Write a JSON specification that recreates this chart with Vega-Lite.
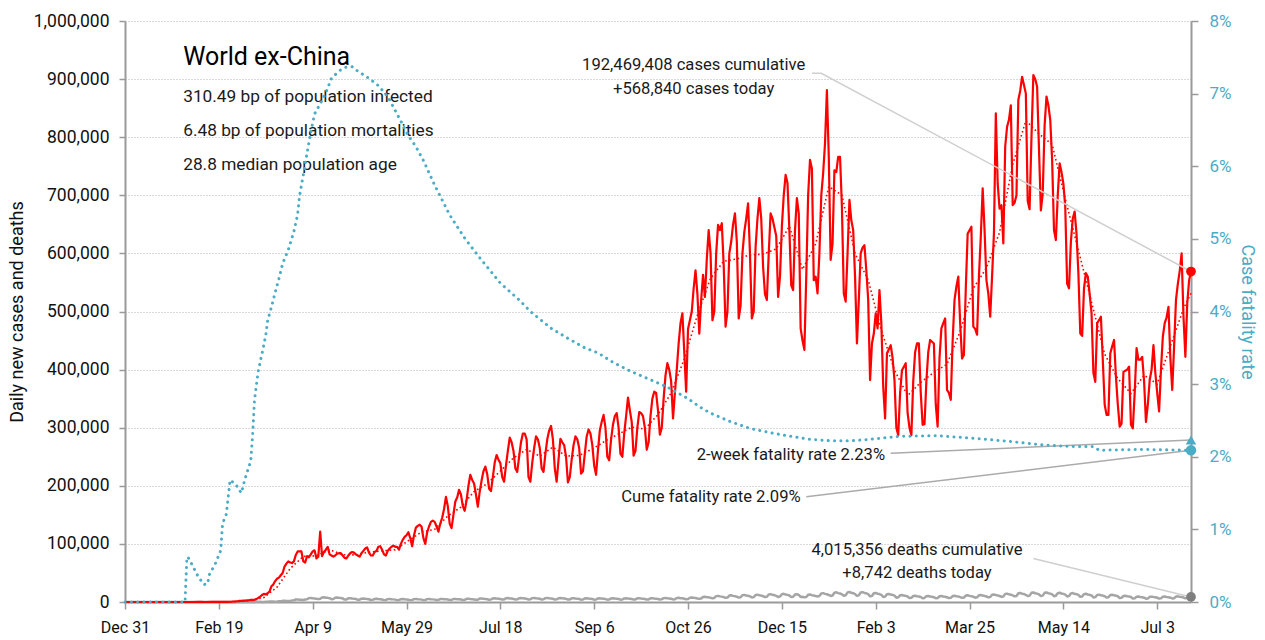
{
"$schema": "https://vega.github.io/schema/vega-lite/v6.json",
"width": 1066,
"height": 581,
"autosize": {"type": "none"},
"padding": {"left": 125, "top": 21, "right": 74, "bottom": 38},
"background": "#ffffff",
"config": {
  "view": {"stroke": null},
  "font": "Roboto",
  "axis": {
    "labelFont": "Roboto",
    "titleFont": "Roboto",
    "labelFontSize": 17, "titleFontSize": 18, "titleFontWeight": "normal",
    "labelColor": "#1a1a1a", "titleColor": "#1a1a1a",
    "domainColor": "#9a9a9a", "domainWidth": 2,
    "tickColor": "#9a9a9a", "tickWidth": 1.5, "tickSize": 7, "grid": false
  }
},
"datasets": {
"daily": [
{"date":"2019-12-31","cases":0,"deaths":0},{"date":"2020-01-05","cases":0,"deaths":0},{"date":"2020-01-10","cases":0,"deaths":0},{"date":"2020-01-15","cases":0,"deaths":0},{"date":"2020-01-20","cases":0,"deaths":0},{"date":"2020-01-25","cases":10,"deaths":0},{"date":"2020-01-30","cases":20,"deaths":0},{"date":"2020-02-02","cases":30,"deaths":0},{"date":"2020-02-05","cases":40,"deaths":0},{"date":"2020-02-09","cases":60,"deaths":0},{"date":"2020-02-12","cases":40,"deaths":0},
{"date":"2020-02-15","cases":80,"deaths":0},{"date":"2020-02-16","cases":100,"deaths":0},{"date":"2020-02-17","cases":120,"deaths":0},{"date":"2020-02-18","cases":100,"deaths":0},{"date":"2020-02-19","cases":150,"deaths":0},{"date":"2020-02-20","cases":180,"deaths":0},{"date":"2020-02-21","cases":250,"deaths":0},{"date":"2020-02-22","cases":300,"deaths":0},
{"date":"2020-02-23","cases":400,"deaths":0},{"date":"2020-02-24","cases":300,"deaths":0},{"date":"2020-02-25","cases":400,"deaths":0},{"date":"2020-02-26","cases":500,"deaths":0},{"date":"2020-02-27","cases":900,"deaths":10},{"date":"2020-02-28","cases":1000,"deaths":10},{"date":"2020-02-29","cases":1300,"deaths":10},
{"date":"2020-03-01","cases":1800,"deaths":40},{"date":"2020-03-02","cases":2000,"deaths":40},{"date":"2020-03-03","cases":2200,"deaths":60},{"date":"2020-03-04","cases":2300,"deaths":60},{"date":"2020-03-05","cases":2700,"deaths":60},{"date":"2020-03-06","cases":3000,"deaths":50},{"date":"2020-03-07","cases":3700,"deaths":50},
{"date":"2020-03-08","cases":3600,"deaths":150},{"date":"2020-03-09","cases":3800,"deaths":160},{"date":"2020-03-10","cases":5000,"deaths":230},{"date":"2020-03-11","cases":7000,"deaths":240},{"date":"2020-03-12","cases":9000,"deaths":220},{"date":"2020-03-13","cases":12000,"deaths":210},{"date":"2020-03-14","cases":14000,"deaths":190},
{"date":"2020-03-15","cases":13000,"deaths":450},{"date":"2020-03-16","cases":15000,"deaths":480},{"date":"2020-03-17","cases":18000,"deaths":690},{"date":"2020-03-18","cases":27000,"deaths":720},{"date":"2020-03-19","cases":30000,"deaths":660},{"date":"2020-03-20","cases":36000,"deaths":630},{"date":"2020-03-21","cases":40000,"deaths":570},
{"date":"2020-03-22","cases":42000,"deaths":1280},{"date":"2020-03-23","cases":46000,"deaths":1360},{"date":"2020-03-24","cases":50000,"deaths":1960},{"date":"2020-03-25","cases":61000,"deaths":2040},{"date":"2020-03-26","cases":66000,"deaths":1870},{"date":"2020-03-27","cases":70000,"deaths":1790},{"date":"2020-03-28","cases":68000,"deaths":1620},
{"date":"2020-03-29","cases":67000,"deaths":2780},{"date":"2020-03-30","cases":70000,"deaths":2960},{"date":"2020-03-31","cases":81000,"deaths":4260},{"date":"2020-04-01","cases":87000,"deaths":4440},{"date":"2020-04-02","cases":87000,"deaths":4070},{"date":"2020-04-03","cases":87000,"deaths":3890},{"date":"2020-04-04","cases":70000,"deaths":3520},
{"date":"2020-04-05","cases":68000,"deaths":4350},{"date":"2020-04-06","cases":79000,"deaths":4640},{"date":"2020-04-07","cases":77000,"deaths":6670},{"date":"2020-04-08","cases":82000,"deaths":6960},{"date":"2020-04-09","cases":87000,"deaths":6380},{"date":"2020-04-10","cases":89000,"deaths":6090},{"date":"2020-04-11","cases":75000,"deaths":5510},
{"date":"2020-04-12","cases":78000,"deaths":5100},{"date":"2020-04-13","cases":121000,"deaths":5440},{"date":"2020-04-14","cases":79000,"deaths":7820},{"date":"2020-04-15","cases":86000,"deaths":8160},{"date":"2020-04-16","cases":90000,"deaths":7480},{"date":"2020-04-17","cases":95000,"deaths":7140},{"date":"2020-04-18","cases":82000,"deaths":6460},
{"date":"2020-04-19","cases":80000,"deaths":4880},{"date":"2020-04-20","cases":78000,"deaths":5200},{"date":"2020-04-21","cases":80000,"deaths":7480},{"date":"2020-04-22","cases":83000,"deaths":7800},{"date":"2020-04-23","cases":84000,"deaths":7150},{"date":"2020-04-24","cases":84000,"deaths":6830},{"date":"2020-04-25","cases":80000,"deaths":6180},
{"date":"2020-04-26","cases":76000,"deaths":4130},{"date":"2020-04-27","cases":75000,"deaths":4400},{"date":"2020-04-28","cases":80000,"deaths":6330},{"date":"2020-04-29","cases":84000,"deaths":6600},{"date":"2020-04-30","cases":86000,"deaths":6050},{"date":"2020-05-01","cases":85000,"deaths":5780},{"date":"2020-05-02","cases":82000,"deaths":5230},
{"date":"2020-05-03","cases":80000,"deaths":3750},{"date":"2020-05-04","cases":78000,"deaths":4000},{"date":"2020-05-05","cases":84000,"deaths":5750},{"date":"2020-05-06","cases":88000,"deaths":6000},{"date":"2020-05-07","cases":92000,"deaths":5500},{"date":"2020-05-08","cases":94000,"deaths":5250},{"date":"2020-05-09","cases":85000,"deaths":4750},
{"date":"2020-05-10","cases":80000,"deaths":3450},{"date":"2020-05-11","cases":80000,"deaths":3680},{"date":"2020-05-12","cases":86000,"deaths":5290},{"date":"2020-05-13","cases":88000,"deaths":5520},{"date":"2020-05-14","cases":95000,"deaths":5060},{"date":"2020-05-15","cases":96000,"deaths":4830},{"date":"2020-05-16","cases":90000,"deaths":4370},
{"date":"2020-05-17","cases":82000,"deaths":3230},{"date":"2020-05-18","cases":80000,"deaths":3440},{"date":"2020-05-19","cases":88000,"deaths":4950},{"date":"2020-05-20","cases":92000,"deaths":5160},{"date":"2020-05-21","cases":95000,"deaths":4730},{"date":"2020-05-22","cases":97000,"deaths":4520},{"date":"2020-05-23","cases":95000,"deaths":4090},
{"date":"2020-05-24","cases":95000,"deaths":3150},{"date":"2020-05-25","cases":90000,"deaths":3360},{"date":"2020-05-26","cases":100000,"deaths":4830},{"date":"2020-05-27","cases":107000,"deaths":5040},{"date":"2020-05-28","cases":112000,"deaths":4620},{"date":"2020-05-29","cases":115000,"deaths":4410},{"date":"2020-05-30","cases":120000,"deaths":3990},
{"date":"2020-05-31","cases":110000,"deaths":3230},{"date":"2020-06-01","cases":96000,"deaths":3440},{"date":"2020-06-02","cases":115000,"deaths":4950},{"date":"2020-06-03","cases":128000,"deaths":5160},{"date":"2020-06-04","cases":131000,"deaths":4730},{"date":"2020-06-05","cases":133000,"deaths":4520},{"date":"2020-06-06","cases":130000,"deaths":4090},
{"date":"2020-06-07","cases":110000,"deaths":3230},{"date":"2020-06-08","cases":100000,"deaths":3440},{"date":"2020-06-09","cases":120000,"deaths":4950},{"date":"2020-06-10","cases":130000,"deaths":5160},{"date":"2020-06-11","cases":138000,"deaths":4730},{"date":"2020-06-12","cases":140000,"deaths":4520},{"date":"2020-06-13","cases":138000,"deaths":4090},
{"date":"2020-06-14","cases":130000,"deaths":3300},{"date":"2020-06-15","cases":121000,"deaths":3520},{"date":"2020-06-16","cases":135000,"deaths":5060},{"date":"2020-06-17","cases":145000,"deaths":5280},{"date":"2020-06-18","cases":160000,"deaths":4840},{"date":"2020-06-19","cases":181000,"deaths":4620},{"date":"2020-06-20","cases":165000,"deaths":4180},
{"date":"2020-06-21","cases":135000,"deaths":3300},{"date":"2020-06-22","cases":127000,"deaths":3520},{"date":"2020-06-23","cases":150000,"deaths":5060},{"date":"2020-06-24","cases":173000,"deaths":5280},{"date":"2020-06-25","cases":180000,"deaths":4840},{"date":"2020-06-26","cases":193000,"deaths":4620},{"date":"2020-06-27","cases":185000,"deaths":4180},
{"date":"2020-06-28","cases":165000,"deaths":3530},{"date":"2020-06-29","cases":157000,"deaths":3760},{"date":"2020-06-30","cases":175000,"deaths":5410},{"date":"2020-07-01","cases":200000,"deaths":5640},{"date":"2020-07-02","cases":219000,"deaths":5170},{"date":"2020-07-03","cases":210000,"deaths":4940},{"date":"2020-07-04","cases":204000,"deaths":4470},
{"date":"2020-07-05","cases":185000,"deaths":3830},{"date":"2020-07-06","cases":164000,"deaths":4080},{"date":"2020-07-07","cases":190000,"deaths":5870},{"date":"2020-07-08","cases":209000,"deaths":6120},{"date":"2020-07-09","cases":225000,"deaths":5610},{"date":"2020-07-10","cases":233000,"deaths":5360},{"date":"2020-07-11","cases":220000,"deaths":4850},
{"date":"2020-07-12","cases":195000,"deaths":3980},{"date":"2020-07-13","cases":191000,"deaths":4240},{"date":"2020-07-14","cases":215000,"deaths":6100},{"date":"2020-07-15","cases":240000,"deaths":6360},{"date":"2020-07-16","cases":253000,"deaths":5830},{"date":"2020-07-17","cases":245000,"deaths":5570},{"date":"2020-07-18","cases":239000,"deaths":5040},
{"date":"2020-07-19","cases":215000,"deaths":4200},{"date":"2020-07-20","cases":207000,"deaths":4480},{"date":"2020-07-21","cases":235000,"deaths":6440},{"date":"2020-07-22","cases":260000,"deaths":6720},{"date":"2020-07-23","cases":283000,"deaths":6160},{"date":"2020-07-24","cases":275000,"deaths":5880},{"date":"2020-07-25","cases":260000,"deaths":5320},
{"date":"2020-07-26","cases":230000,"deaths":4280},{"date":"2020-07-27","cases":224000,"deaths":4560},{"date":"2020-07-28","cases":250000,"deaths":6560},{"date":"2020-07-29","cases":275000,"deaths":6840},{"date":"2020-07-30","cases":290000,"deaths":6270},{"date":"2020-07-31","cases":290000,"deaths":5990},{"date":"2020-08-01","cases":280000,"deaths":5420},
{"date":"2020-08-02","cases":215000,"deaths":4350},{"date":"2020-08-03","cases":207000,"deaths":4640},{"date":"2020-08-04","cases":240000,"deaths":6670},{"date":"2020-08-05","cases":265000,"deaths":6960},{"date":"2020-08-06","cases":285000,"deaths":6380},{"date":"2020-08-07","cases":280000,"deaths":6090},{"date":"2020-08-08","cases":265000,"deaths":5510},
{"date":"2020-08-09","cases":230000,"deaths":4350},{"date":"2020-08-10","cases":224000,"deaths":4640},{"date":"2020-08-11","cases":255000,"deaths":6670},{"date":"2020-08-12","cases":280000,"deaths":6960},{"date":"2020-08-13","cases":295000,"deaths":6380},{"date":"2020-08-14","cases":303000,"deaths":6090},{"date":"2020-08-15","cases":280000,"deaths":5510},
{"date":"2020-08-16","cases":230000,"deaths":4280},{"date":"2020-08-17","cases":207000,"deaths":4560},{"date":"2020-08-18","cases":245000,"deaths":6560},{"date":"2020-08-19","cases":281000,"deaths":6840},{"date":"2020-08-20","cases":275000,"deaths":6270},{"date":"2020-08-21","cases":270000,"deaths":5990},{"date":"2020-08-22","cases":250000,"deaths":5420},
{"date":"2020-08-23","cases":206000,"deaths":4130},{"date":"2020-08-24","cases":215000,"deaths":4400},{"date":"2020-08-25","cases":245000,"deaths":6330},{"date":"2020-08-26","cases":270000,"deaths":6600},{"date":"2020-08-27","cases":285000,"deaths":6050},{"date":"2020-08-28","cases":280000,"deaths":5780},{"date":"2020-08-29","cases":265000,"deaths":5230},
{"date":"2020-08-30","cases":221000,"deaths":4050},{"date":"2020-08-31","cases":225000,"deaths":4320},{"date":"2020-09-01","cases":255000,"deaths":6210},{"date":"2020-09-02","cases":285000,"deaths":6480},{"date":"2020-09-03","cases":297000,"deaths":5940},{"date":"2020-09-04","cases":290000,"deaths":5670},{"date":"2020-09-05","cases":270000,"deaths":5130},
{"date":"2020-09-06","cases":235000,"deaths":3980},{"date":"2020-09-07","cases":219000,"deaths":4240},{"date":"2020-09-08","cases":260000,"deaths":6100},{"date":"2020-09-09","cases":295000,"deaths":6360},{"date":"2020-09-10","cases":310000,"deaths":5830},{"date":"2020-09-11","cases":322000,"deaths":5570},{"date":"2020-09-12","cases":300000,"deaths":5040},
{"date":"2020-09-13","cases":250000,"deaths":4050},{"date":"2020-09-14","cases":244000,"deaths":4320},{"date":"2020-09-15","cases":280000,"deaths":6210},{"date":"2020-09-16","cases":305000,"deaths":6480},{"date":"2020-09-17","cases":320000,"deaths":5940},{"date":"2020-09-18","cases":325000,"deaths":5670},{"date":"2020-09-19","cases":300000,"deaths":5130},
{"date":"2020-09-20","cases":255000,"deaths":3980},{"date":"2020-09-21","cases":250000,"deaths":4240},{"date":"2020-09-22","cases":290000,"deaths":6100},{"date":"2020-09-23","cases":320000,"deaths":6360},{"date":"2020-09-24","cases":352000,"deaths":5830},{"date":"2020-09-25","cases":330000,"deaths":5570},{"date":"2020-09-26","cases":310000,"deaths":5040},
{"date":"2020-09-27","cases":252000,"deaths":4130},{"date":"2020-09-28","cases":260000,"deaths":4400},{"date":"2020-09-29","cases":300000,"deaths":6330},{"date":"2020-09-30","cases":327000,"deaths":6600},{"date":"2020-10-01","cases":325000,"deaths":6050},{"date":"2020-10-02","cases":320000,"deaths":5780},{"date":"2020-10-03","cases":300000,"deaths":5230},
{"date":"2020-10-04","cases":262000,"deaths":4130},{"date":"2020-10-05","cases":275000,"deaths":4400},{"date":"2020-10-06","cases":320000,"deaths":6330},{"date":"2020-10-07","cases":350000,"deaths":6600},{"date":"2020-10-08","cases":362000,"deaths":6050},{"date":"2020-10-09","cases":360000,"deaths":5780},{"date":"2020-10-10","cases":330000,"deaths":5230},
{"date":"2020-10-11","cases":288000,"deaths":4350},{"date":"2020-10-12","cases":300000,"deaths":4640},{"date":"2020-10-13","cases":350000,"deaths":6670},{"date":"2020-10-14","cases":390000,"deaths":6960},{"date":"2020-10-15","cases":411000,"deaths":6380},{"date":"2020-10-16","cases":400000,"deaths":6090},{"date":"2020-10-17","cases":380000,"deaths":5510},
{"date":"2020-10-18","cases":316000,"deaths":4500},{"date":"2020-10-19","cases":360000,"deaths":4800},{"date":"2020-10-20","cases":400000,"deaths":6900},{"date":"2020-10-21","cases":445000,"deaths":7200},{"date":"2020-10-22","cases":480000,"deaths":6600},{"date":"2020-10-23","cases":497000,"deaths":6300},{"date":"2020-10-24","cases":430000,"deaths":5700},
{"date":"2020-10-25","cases":362000,"deaths":4880},{"date":"2020-10-26","cases":470000,"deaths":5200},{"date":"2020-10-27","cases":485000,"deaths":7480},{"date":"2020-10-28","cases":500000,"deaths":7800},{"date":"2020-10-29","cases":540000,"deaths":7150},{"date":"2020-10-30","cases":571000,"deaths":6830},{"date":"2020-10-31","cases":530000,"deaths":6180},
{"date":"2020-11-01","cases":462000,"deaths":5700},{"date":"2020-11-02","cases":520000,"deaths":6080},{"date":"2020-11-03","cases":563000,"deaths":8740},{"date":"2020-11-04","cases":525000,"deaths":9120},{"date":"2020-11-05","cases":590000,"deaths":8360},{"date":"2020-11-06","cases":640000,"deaths":7980},{"date":"2020-11-07","cases":600000,"deaths":7220},
{"date":"2020-11-08","cases":485000,"deaths":6600},{"date":"2020-11-09","cases":500000,"deaths":7040},{"date":"2020-11-10","cases":600000,"deaths":10120},{"date":"2020-11-11","cases":649000,"deaths":10560},{"date":"2020-11-12","cases":640000,"deaths":9680},{"date":"2020-11-13","cases":652000,"deaths":9240},{"date":"2020-11-14","cases":580000,"deaths":8360},
{"date":"2020-11-15","cases":474000,"deaths":7200},{"date":"2020-11-16","cases":500000,"deaths":7680},{"date":"2020-11-17","cases":600000,"deaths":11040},{"date":"2020-11-18","cases":620000,"deaths":11520},{"date":"2020-11-19","cases":650000,"deaths":10560},{"date":"2020-11-20","cases":669000,"deaths":10080},{"date":"2020-11-21","cases":620000,"deaths":9120},
{"date":"2020-11-22","cases":488000,"deaths":7650},{"date":"2020-11-23","cases":510000,"deaths":8160},{"date":"2020-11-24","cases":600000,"deaths":11730},{"date":"2020-11-25","cases":637000,"deaths":12240},{"date":"2020-11-26","cases":660000,"deaths":11220},{"date":"2020-11-27","cases":686000,"deaths":10710},{"date":"2020-11-28","cases":600000,"deaths":9690},
{"date":"2020-11-29","cases":488000,"deaths":7880},{"date":"2020-11-30","cases":500000,"deaths":8400},{"date":"2020-12-01","cases":611000,"deaths":12080},{"date":"2020-12-02","cases":660000,"deaths":12600},{"date":"2020-12-03","cases":695000,"deaths":11550},{"date":"2020-12-04","cases":660000,"deaths":11030},{"date":"2020-12-05","cases":577000,"deaths":9980},
{"date":"2020-12-06","cases":530000,"deaths":8400},{"date":"2020-12-07","cases":520000,"deaths":8960},{"date":"2020-12-08","cases":600000,"deaths":12880},{"date":"2020-12-09","cases":669000,"deaths":13440},{"date":"2020-12-10","cases":660000,"deaths":12320},{"date":"2020-12-11","cases":645000,"deaths":11760},{"date":"2020-12-12","cases":630000,"deaths":10640},
{"date":"2020-12-13","cases":525000,"deaths":8780},{"date":"2020-12-14","cases":560000,"deaths":9360},{"date":"2020-12-15","cases":646000,"deaths":13460},{"date":"2020-12-16","cases":700000,"deaths":14040},{"date":"2020-12-17","cases":735000,"deaths":12870},{"date":"2020-12-18","cases":721000,"deaths":12290},{"date":"2020-12-19","cases":640000,"deaths":11120},
{"date":"2020-12-20","cases":545000,"deaths":8400},{"date":"2020-12-21","cases":537000,"deaths":8960},{"date":"2020-12-22","cases":640000,"deaths":12880},{"date":"2020-12-23","cases":695000,"deaths":13440},{"date":"2020-12-24","cases":669000,"deaths":12320},{"date":"2020-12-25","cases":471000,"deaths":8800},{"date":"2020-12-26","cases":450000,"deaths":9000},
{"date":"2020-12-27","cases":434000,"deaths":8030},{"date":"2020-12-28","cases":560000,"deaths":8560},{"date":"2020-12-29","cases":700000,"deaths":12310},{"date":"2020-12-30","cases":761000,"deaths":12840},{"date":"2020-12-31","cases":746000,"deaths":11770},{"date":"2021-01-01","cases":554000,"deaths":11240},{"date":"2021-01-02","cases":560000,"deaths":10170},
{"date":"2021-01-03","cases":531000,"deaths":9530},{"date":"2021-01-04","cases":600000,"deaths":10160},{"date":"2021-01-05","cases":700000,"deaths":14610},{"date":"2021-01-06","cases":738000,"deaths":15240},{"date":"2021-01-07","cases":790000,"deaths":13970},{"date":"2021-01-08","cases":881000,"deaths":13340},{"date":"2021-01-09","cases":766000,"deaths":12070},
{"date":"2021-01-10","cases":589000,"deaths":10430},{"date":"2021-01-11","cases":617000,"deaths":11120},{"date":"2021-01-12","cases":743000,"deaths":15990},{"date":"2021-01-13","cases":740000,"deaths":16680},{"date":"2021-01-14","cases":766000,"deaths":15290},{"date":"2021-01-15","cases":766000,"deaths":14600},{"date":"2021-01-16","cases":680000,"deaths":13210},
{"date":"2021-01-17","cases":531000,"deaths":10800},{"date":"2021-01-18","cases":517000,"deaths":11520},{"date":"2021-01-19","cases":600000,"deaths":16560},{"date":"2021-01-20","cases":692000,"deaths":17280},{"date":"2021-01-21","cases":657000,"deaths":15840},{"date":"2021-01-22","cases":640000,"deaths":15120},{"date":"2021-01-23","cases":560000,"deaths":13680},
{"date":"2021-01-24","cases":445000,"deaths":10650},{"date":"2021-01-25","cases":520000,"deaths":11360},{"date":"2021-01-26","cases":600000,"deaths":16330},{"date":"2021-01-27","cases":610000,"deaths":17040},{"date":"2021-01-28","cases":614000,"deaths":15620},{"date":"2021-01-29","cases":571000,"deaths":14910},{"date":"2021-01-30","cases":520000,"deaths":13490},
{"date":"2021-01-31","cases":382000,"deaths":9750},{"date":"2021-02-01","cases":445000,"deaths":10400},{"date":"2021-02-02","cases":462000,"deaths":14950},{"date":"2021-02-03","cases":497000,"deaths":15600},{"date":"2021-02-04","cases":471000,"deaths":14300},{"date":"2021-02-05","cases":537000,"deaths":13650},{"date":"2021-02-06","cases":480000,"deaths":12350},
{"date":"2021-02-07","cases":371000,"deaths":8700},{"date":"2021-02-08","cases":316000,"deaths":9280},{"date":"2021-02-09","cases":428000,"deaths":13340},{"date":"2021-02-10","cases":435000,"deaths":13920},{"date":"2021-02-11","cases":442000,"deaths":12760},{"date":"2021-02-12","cases":420000,"deaths":12180},{"date":"2021-02-13","cases":382000,"deaths":11020},
{"date":"2021-02-14","cases":300000,"deaths":7500},{"date":"2021-02-15","cases":287000,"deaths":8000},{"date":"2021-02-16","cases":360000,"deaths":11500},{"date":"2021-02-17","cases":399000,"deaths":12000},{"date":"2021-02-18","cases":405000,"deaths":11000},{"date":"2021-02-19","cases":411000,"deaths":10500},{"date":"2021-02-20","cases":325000,"deaths":9500},
{"date":"2021-02-21","cases":300000,"deaths":6750},{"date":"2021-02-22","cases":287000,"deaths":7200},{"date":"2021-02-23","cases":380000,"deaths":10350},{"date":"2021-02-24","cases":430000,"deaths":10800},{"date":"2021-02-25","cases":445000,"deaths":9900},{"date":"2021-02-26","cases":445000,"deaths":9450},{"date":"2021-02-27","cases":360000,"deaths":8550},
{"date":"2021-02-28","cases":305000,"deaths":6530},{"date":"2021-03-01","cases":306000,"deaths":6960},{"date":"2021-03-02","cases":380000,"deaths":10010},{"date":"2021-03-03","cases":430000,"deaths":10440},{"date":"2021-03-04","cases":451000,"deaths":9570},{"date":"2021-03-05","cases":448000,"deaths":9140},{"date":"2021-03-06","cases":445000,"deaths":8270},
{"date":"2021-03-07","cases":340000,"deaths":6450},{"date":"2021-03-08","cases":302000,"deaths":6880},{"date":"2021-03-09","cases":420000,"deaths":9890},{"date":"2021-03-10","cases":471000,"deaths":10320},{"date":"2021-03-11","cases":480000,"deaths":9460},{"date":"2021-03-12","cases":488000,"deaths":9030},{"date":"2021-03-13","cases":365000,"deaths":8170},
{"date":"2021-03-14","cases":360000,"deaths":6680},{"date":"2021-03-15","cases":348000,"deaths":7120},{"date":"2021-03-16","cases":450000,"deaths":10240},{"date":"2021-03-17","cases":520000,"deaths":10680},{"date":"2021-03-18","cases":543000,"deaths":9790},{"date":"2021-03-19","cases":560000,"deaths":9350},{"date":"2021-03-20","cases":480000,"deaths":8460},
{"date":"2021-03-21","cases":419000,"deaths":7200},{"date":"2021-03-22","cases":425000,"deaths":7680},{"date":"2021-03-23","cases":540000,"deaths":11040},{"date":"2021-03-24","cases":634000,"deaths":11520},{"date":"2021-03-25","cases":640000,"deaths":10560},{"date":"2021-03-26","cases":646000,"deaths":10080},{"date":"2021-03-27","cases":474000,"deaths":9120},
{"date":"2021-03-28","cases":470000,"deaths":7500},{"date":"2021-03-29","cases":460000,"deaths":8000},{"date":"2021-03-30","cases":560000,"deaths":11500},{"date":"2021-03-31","cases":629000,"deaths":12000},{"date":"2021-04-01","cases":712000,"deaths":11000},{"date":"2021-04-02","cases":640000,"deaths":10500},{"date":"2021-04-03","cases":554000,"deaths":9500},
{"date":"2021-04-04","cases":531000,"deaths":8100},{"date":"2021-04-05","cases":491000,"deaths":8640},{"date":"2021-04-06","cases":560000,"deaths":12420},{"date":"2021-04-07","cases":634000,"deaths":12960},{"date":"2021-04-08","cases":841000,"deaths":11880},{"date":"2021-04-09","cases":720000,"deaths":11340},{"date":"2021-04-10","cases":677000,"deaths":10260},
{"date":"2021-04-11","cases":683000,"deaths":9000},{"date":"2021-04-12","cases":617000,"deaths":9600},{"date":"2021-04-13","cases":784000,"deaths":13800},{"date":"2021-04-14","cases":818000,"deaths":14400},{"date":"2021-04-15","cases":830000,"deaths":13200},{"date":"2021-04-16","cases":855000,"deaths":12600},{"date":"2021-04-17","cases":683000,"deaths":11400},
{"date":"2021-04-18","cases":687000,"deaths":9750},{"date":"2021-04-19","cases":700000,"deaths":10400},{"date":"2021-04-20","cases":864000,"deaths":14950},{"date":"2021-04-21","cases":880000,"deaths":15600},{"date":"2021-04-22","cases":904000,"deaths":14300},{"date":"2021-04-23","cases":890000,"deaths":13650},{"date":"2021-04-24","cases":875000,"deaths":12350},
{"date":"2021-04-25","cases":690000,"deaths":10280},{"date":"2021-04-26","cases":676000,"deaths":10960},{"date":"2021-04-27","cases":800000,"deaths":15760},{"date":"2021-04-28","cases":907000,"deaths":16440},{"date":"2021-04-29","cases":900000,"deaths":15070},{"date":"2021-04-30","cases":887000,"deaths":14390},{"date":"2021-05-01","cases":780000,"deaths":13020},
{"date":"2021-05-02","cases":674000,"deaths":10280},{"date":"2021-05-03","cases":703000,"deaths":10960},{"date":"2021-05-04","cases":820000,"deaths":15760},{"date":"2021-05-05","cases":870000,"deaths":16440},{"date":"2021-05-06","cases":855000,"deaths":15070},{"date":"2021-05-07","cases":830000,"deaths":14390},{"date":"2021-05-08","cases":761000,"deaths":13020},
{"date":"2021-05-09","cases":640000,"deaths":9980},{"date":"2021-05-10","cases":623000,"deaths":10640},{"date":"2021-05-11","cases":700000,"deaths":15300},{"date":"2021-05-12","cases":755000,"deaths":15960},{"date":"2021-05-13","cases":740000,"deaths":14630},{"date":"2021-05-14","cases":720000,"deaths":13970},{"date":"2021-05-15","cases":680000,"deaths":12640},
{"date":"2021-05-16","cases":548000,"deaths":9600},{"date":"2021-05-17","cases":540000,"deaths":10240},{"date":"2021-05-18","cases":620000,"deaths":14720},{"date":"2021-05-19","cases":660000,"deaths":15360},{"date":"2021-05-20","cases":672000,"deaths":14080},{"date":"2021-05-21","cases":634000,"deaths":13440},{"date":"2021-05-22","cases":566000,"deaths":12160},
{"date":"2021-05-23","cases":462000,"deaths":8850},{"date":"2021-05-24","cases":458000,"deaths":9440},{"date":"2021-05-25","cases":540000,"deaths":13570},{"date":"2021-05-26","cases":566000,"deaths":14160},{"date":"2021-05-27","cases":560000,"deaths":12980},{"date":"2021-05-28","cases":530000,"deaths":12390},{"date":"2021-05-29","cases":497000,"deaths":11210},
{"date":"2021-05-30","cases":394000,"deaths":7880},{"date":"2021-05-31","cases":379000,"deaths":8400},{"date":"2021-06-01","cases":480000,"deaths":12080},{"date":"2021-06-02","cases":485000,"deaths":12600},{"date":"2021-06-03","cases":491000,"deaths":11550},{"date":"2021-06-04","cases":417000,"deaths":11030},{"date":"2021-06-05","cases":340000,"deaths":9980},
{"date":"2021-06-06","cases":322000,"deaths":7800},{"date":"2021-06-07","cases":322000,"deaths":8320},{"date":"2021-06-08","cases":428000,"deaths":11960},{"date":"2021-06-09","cases":440000,"deaths":12480},{"date":"2021-06-10","cases":451000,"deaths":11440},{"date":"2021-06-11","cases":388000,"deaths":10920},{"date":"2021-06-12","cases":340000,"deaths":9880},
{"date":"2021-06-13","cases":302000,"deaths":6750},{"date":"2021-06-14","cases":307000,"deaths":7200},{"date":"2021-06-15","cases":396000,"deaths":10350},{"date":"2021-06-16","cases":398000,"deaths":10800},{"date":"2021-06-17","cases":400000,"deaths":9900},{"date":"2021-06-18","cases":405000,"deaths":9450},{"date":"2021-06-19","cases":305000,"deaths":8550},
{"date":"2021-06-20","cases":299000,"deaths":5850},{"date":"2021-06-21","cases":360000,"deaths":6240},{"date":"2021-06-22","cases":437000,"deaths":8970},{"date":"2021-06-23","cases":417000,"deaths":9360},{"date":"2021-06-24","cases":417000,"deaths":8580},{"date":"2021-06-25","cases":422000,"deaths":8190},{"date":"2021-06-26","cases":380000,"deaths":7410},
{"date":"2021-06-27","cases":310000,"deaths":5780},{"date":"2021-06-28","cases":340000,"deaths":6160},{"date":"2021-06-29","cases":382000,"deaths":8860},{"date":"2021-06-30","cases":400000,"deaths":9240},{"date":"2021-07-01","cases":442000,"deaths":8470},{"date":"2021-07-02","cases":394000,"deaths":8090},{"date":"2021-07-03","cases":360000,"deaths":7320},
{"date":"2021-07-04","cases":328000,"deaths":5850},{"date":"2021-07-05","cases":400000,"deaths":6240},{"date":"2021-07-06","cases":457000,"deaths":8970},{"date":"2021-07-07","cases":480000,"deaths":9360},{"date":"2021-07-08","cases":490000,"deaths":8580},{"date":"2021-07-09","cases":508000,"deaths":8190},{"date":"2021-07-10","cases":420000,"deaths":7410},
{"date":"2021-07-11","cases":365000,"deaths":6080},{"date":"2021-07-12","cases":440000,"deaths":6480},{"date":"2021-07-13","cases":520000,"deaths":9320},{"date":"2021-07-14","cases":548000,"deaths":9720},{"date":"2021-07-15","cases":570000,"deaths":8910},{"date":"2021-07-16","cases":600000,"deaths":8510},{"date":"2021-07-17","cases":491000,"deaths":7700},
{"date":"2021-07-18","cases":422000,"deaths":6300},{"date":"2021-07-19","cases":514000,"deaths":6720},{"date":"2021-07-20","cases":554000,"deaths":9660},{"date":"2021-07-21","cases":568840,"deaths":8742}
],
"avg": [
{"date":"2019-12-31","avg":0},{"date":"2020-02-22","avg":200},{"date":"2020-02-29","avg":690},{"date":"2020-03-07","avg":2500},{"date":"2020-03-14","avg":7800},{"date":"2020-03-21","avg":25600},{"date":"2020-03-28","avg":57600},{"date":"2020-04-04","avg":78400},{"date":"2020-04-11","avg":79600},{"date":"2020-04-18","avg":90100},{"date":"2020-04-25","avg":81300},{"date":"2020-05-02","avg":81100},{"date":"2020-05-09","avg":85900},{"date":"2020-05-16","avg":87900},{"date":"2020-05-23","avg":89900},{"date":"2020-05-30","avg":105600},{"date":"2020-06-06","avg":120400},{"date":"2020-06-13","avg":125100},{"date":"2020-06-20","avg":148100},{"date":"2020-06-27","avg":163300},{"date":"2020-07-04","avg":190000},{"date":"2020-07-11","avg":203700},{"date":"2020-07-18","avg":225400},{"date":"2020-07-25","avg":247900},{"date":"2020-08-01","avg":262700},{"date":"2020-08-08","avg":251000},{"date":"2020-08-15","avg":266700},{"date":"2020-08-22","avg":251100},{"date":"2020-08-29","avg":252300},{"date":"2020-09-05","avg":263300},{"date":"2020-09-12","avg":277300},{"date":"2020-09-19","avg":289100},{"date":"2020-09-26","avg":301000},{"date":"2020-10-03","avg":297700},{"date":"2020-10-10","avg":322700},{"date":"2020-10-17","avg":359900},{"date":"2020-10-24","avg":418300},{"date":"2020-10-31","avg":494000},{"date":"2020-11-07","avg":557100},{"date":"2020-11-14","avg":586600},{"date":"2020-11-21","avg":590400},{"date":"2020-11-28","avg":597300},{"date":"2020-12-05","avg":598700},{"date":"2020-12-12","avg":607700},{"date":"2020-12-19","avg":646700},{"date":"2020-12-26","avg":572400},{"date":"2021-01-02","avg":616400},{"date":"2021-01-09","avg":715100},{"date":"2021-01-16","avg":700100},{"date":"2021-01-23","avg":599600},{"date":"2021-01-30","avg":554300},{"date":"2021-02-06","avg":467700},{"date":"2021-02-13","avg":399100},{"date":"2021-02-20","avg":355300},{"date":"2021-02-27","avg":378100},{"date":"2021-03-06","avg":395000},{"date":"2021-03-13","avg":409400},{"date":"2021-03-20","avg":465900},{"date":"2021-03-27","avg":539700},{"date":"2021-04-03","avg":575000},{"date":"2021-04-10","avg":636300},{"date":"2021-04-17","avg":752900},{"date":"2021-04-24","avg":828600},{"date":"2021-05-01","avg":805700},{"date":"2021-05-08","avg":787600},{"date":"2021-05-15","avg":694000},{"date":"2021-05-22","avg":605700},{"date":"2021-05-29","avg":516100},{"date":"2021-06-05","avg":426600},{"date":"2021-06-12","avg":384400},{"date":"2021-06-19","avg":359000},{"date":"2021-06-26","avg":390300},{"date":"2021-07-03","avg":375400},{"date":"2021-07-10","avg":440400},{"date":"2021-07-17","avg":504900},{"date":"2021-07-21","avg":531400}
],
"cfr": [
{"date":"2019-12-31","rate":0},{"date":"2020-02-01","rate":0},{"date":"2020-02-02","rate":0.0062},{"date":"2020-02-03","rate":0.006},{"date":"2020-02-05","rate":0.005},{"date":"2020-02-08","rate":0.0035},{"date":"2020-02-11","rate":0.0024},{"date":"2020-02-13","rate":0.0025},{"date":"2020-02-14","rate":0.0038},{"date":"2020-02-17","rate":0.0052},{"date":"2020-02-20","rate":0.0071},{"date":"2020-02-21","rate":0.0108},{"date":"2020-02-23","rate":0.0121},{"date":"2020-02-25","rate":0.0168},{"date":"2020-02-28","rate":0.0162},{"date":"2020-03-02","rate":0.015},{"date":"2020-03-04","rate":0.017},{"date":"2020-03-07","rate":0.0194},{"date":"2020-03-08","rate":0.0229},{"date":"2020-03-09","rate":0.0278},{"date":"2020-03-11","rate":0.0318},{"date":"2020-03-13","rate":0.0342},{"date":"2020-03-15","rate":0.0367},{"date":"2020-03-16","rate":0.0387},{"date":"2020-03-18","rate":0.0406},{"date":"2020-03-20","rate":0.0426},{"date":"2020-03-22","rate":0.0445},{"date":"2020-03-24","rate":0.0466},{"date":"2020-03-27","rate":0.0485},{"date":"2020-03-30","rate":0.051},{"date":"2020-04-01","rate":0.0534},{"date":"2020-04-02","rate":0.0559},{"date":"2020-04-04","rate":0.0588},{"date":"2020-04-06","rate":0.0618},{"date":"2020-04-08","rate":0.0647},{"date":"2020-04-10","rate":0.0672},{"date":"2020-04-13","rate":0.0686},{"date":"2020-04-16","rate":0.0701},{"date":"2020-04-19","rate":0.0721},{"date":"2020-04-23","rate":0.0731},{"date":"2020-04-26","rate":0.0736},{"date":"2020-04-30","rate":0.0737},{"date":"2020-05-03","rate":0.0731},{"date":"2020-05-09","rate":0.0721},{"date":"2020-05-14","rate":0.0711},{"date":"2020-05-19","rate":0.0696},{"date":"2020-05-25","rate":0.0667},{"date":"2020-05-30","rate":0.0642},{"date":"2020-06-03","rate":0.0627},{"date":"2020-06-07","rate":0.0608},{"date":"2020-06-13","rate":0.0574},{"date":"2020-06-21","rate":0.0533},{"date":"2020-06-29","rate":0.0501},{"date":"2020-07-07","rate":0.0474},{"date":"2020-07-18","rate":0.0439},{"date":"2020-07-28","rate":0.0416},{"date":"2020-08-03","rate":0.04},{"date":"2020-08-14","rate":0.0377},{"date":"2020-08-23","rate":0.0363},{"date":"2020-09-01","rate":0.035},{"date":"2020-09-08","rate":0.0343},{"date":"2020-09-16","rate":0.033},{"date":"2020-09-26","rate":0.0317},{"date":"2020-10-06","rate":0.0306},{"date":"2020-10-15","rate":0.0296},{"date":"2020-10-26","rate":0.028},{"date":"2020-11-01","rate":0.0269},{"date":"2020-11-07","rate":0.026},{"date":"2020-11-18","rate":0.0248},{"date":"2020-11-28","rate":0.0239},{"date":"2020-12-09","rate":0.0233},{"date":"2020-12-20","rate":0.0228},{"date":"2020-12-30","rate":0.0224},{"date":"2021-01-10","rate":0.0222},{"date":"2021-01-21","rate":0.0222},{"date":"2021-01-31","rate":0.0224},{"date":"2021-02-15","rate":0.0228},{"date":"2021-03-08","rate":0.0229},{"date":"2021-03-29","rate":0.0225},{"date":"2021-04-16","rate":0.0221},{"date":"2021-05-04","rate":0.0216},{"date":"2021-05-20","rate":0.0214},{"date":"2021-05-30","rate":0.0214},{"date":"2021-06-02","rate":0.0209},{"date":"2021-06-24","rate":0.021},{"date":"2021-07-21","rate":0.0209}
]
},
"encoding": {
  "x": {
    "field": "date", "type": "temporal",
    "scale": {"domain": [{"year": 2019, "month": 12, "date": 31}, {"year": 2021, "month": 7, "date": 21}]},
    "axis": {
      "title": null, "format": "%b %-d", "labelFontSize": 16, "labelPadding": 10, "tickSize": 7, "labelColor": "#111111", "labelFlush": false,
      "values": [
        {"year": 2019, "month": 12, "date": 31}, {"year": 2020, "month": 2, "date": 19}, {"year": 2020, "month": 4, "date": 9},
        {"year": 2020, "month": 5, "date": 29}, {"year": 2020, "month": 7, "date": 18}, {"year": 2020, "month": 9, "date": 6},
        {"year": 2020, "month": 10, "date": 26}, {"year": 2020, "month": 12, "date": 15}, {"year": 2021, "month": 2, "date": 3},
        {"year": 2021, "month": 3, "date": 25}, {"year": 2021, "month": 5, "date": 14}, {"year": 2021, "month": 7, "date": 3}
      ]
    }
  }
},
"layer": [
  {
    "data": {"name": "daily"},
    "mark": {"type": "line", "color": "#a5a5a5", "strokeWidth": 2.5, "strokeJoin": "round"},
    "encoding": {
      "y": {
        "field": "deaths", "type": "quantitative",
        "scale": {"domain": [0, 1000000], "nice": false},
        "axis": {
          "title": "Daily new cases and deaths", "format": ",.0f",
          "values": [0, 100000, 200000, 300000, 400000, 500000, 600000, 700000, 800000, 900000, 1000000],
          "grid": true, "gridColor": "#b3b3b3", "gridDash": [1, 2], "gridWidth": 1,
          "labelFontSize": 17.5, "labelPadding": 10, "tickSize": 6, "titlePadding": 7, "labelColor": "#111111", "titleColor": "#111111"
        }
      }
    }
  },
  {
    "data": {"name": "daily"},
    "mark": {"type": "line", "color": "#ff0000", "strokeWidth": 2.2, "strokeJoin": "round"},
    "encoding": {"y": {"field": "cases", "type": "quantitative", "scale": {"domain": [0, 1000000], "nice": false}, "axis": null}}
  },
  {
    "data": {"name": "avg"},
    "mark": {"type": "line", "color": "#ff0000", "strokeWidth": 1.6, "strokeDash": [1.6, 2.6]},
    "encoding": {"y": {"field": "avg", "type": "quantitative", "scale": {"domain": [0, 1000000], "nice": false}, "axis": null}}
  },
  {
    "data": {"values": [
      {"leader": "cases", "date": "2020-12-31", "value": 910000},
      {"leader": "cases", "date": "2021-01-05", "value": 910000},
      {"leader": "cases", "date": "2021-07-21", "value": 568840},
      {"leader": "deaths", "date": "2021-04-28", "value": 75000},
      {"leader": "deaths", "date": "2021-07-21", "value": 8742}
    ]},
    "mark": {"type": "line", "color": "#cfcfcf", "strokeWidth": 1.5},
    "encoding": {
      "y": {"field": "value", "type": "quantitative", "scale": {"domain": [0, 1000000], "nice": false}, "axis": null},
      "detail": {"field": "leader"}
    }
  },
  {
    "data": {"values": [
      {"leader": "twoweek", "date": "2021-02-11", "value": 256000},
      {"leader": "twoweek", "date": "2021-07-21", "value": 278750},
      {"leader": "cume", "date": "2020-12-28", "value": 181000},
      {"leader": "cume", "date": "2021-07-21", "value": 261250}
    ]},
    "mark": {"type": "line", "color": "#ababab", "strokeWidth": 1.5},
    "encoding": {
      "y": {"field": "value", "type": "quantitative", "scale": {"domain": [0, 1000000], "nice": false}, "axis": null},
      "detail": {"field": "leader"}
    }
  },
  {
    "data": {"values": [{"date": "2021-07-21", "cases": 568840}]},
    "mark": {"type": "point", "shape": "circle", "filled": true, "color": "#ff0000", "size": 95, "opacity": 1},
    "encoding": {"y": {"field": "cases", "type": "quantitative", "scale": {"domain": [0, 1000000], "nice": false}, "axis": null}}
  },
  {
    "data": {"values": [{"date": "2021-07-21", "deaths": 8742}]},
    "mark": {"type": "point", "shape": "circle", "filled": true, "color": "#7f7f7f", "size": 95, "opacity": 1},
    "encoding": {"y": {"field": "deaths", "type": "quantitative", "scale": {"domain": [0, 1000000], "nice": false}, "axis": null}}
  },
  {
    "data": {"values": [{"date": "2020-01-31", "value": 924000, "label": "World ex-China"}]},
    "mark": {"type": "text", "align": "left", "baseline": "alphabetic", "fontSize": 25, "color": "#000000", "font": "Roboto"},
    "encoding": {
      "y": {"field": "value", "type": "quantitative", "scale": {"domain": [0, 1000000], "nice": false}, "axis": null},
      "text": {"field": "label"}
    }
  },
  {
    "data": {"values": [
      {"date": "2020-01-31", "value": 860000, "label": "310.49 bp of population infected"},
      {"date": "2020-01-31", "value": 802000, "label": "6.48 bp of population mortalities"},
      {"date": "2020-01-31", "value": 743500, "label": "28.8 median population age"}
    ]},
    "mark": {"type": "text", "align": "left", "baseline": "alphabetic", "fontSize": 17.3, "color": "#1a1a1a", "font": "Roboto"},
    "encoding": {
      "y": {"field": "value", "type": "quantitative", "scale": {"domain": [0, 1000000], "nice": false}, "axis": null},
      "text": {"field": "label"}
    }
  },
  {
    "data": {"values": [
      {"date": "2020-10-29", "value": 915600, "label": "192,469,408 cases cumulative"},
      {"date": "2020-10-29", "value": 874300, "label": "+568,840 cases today"},
      {"date": "2021-02-25", "value": 80900, "label": "4,015,356 deaths cumulative"},
      {"date": "2021-02-25", "value": 41300, "label": "+8,742 deaths today"}
    ]},
    "mark": {"type": "text", "align": "center", "baseline": "alphabetic", "fontSize": 16.6, "color": "#1a1a1a", "font": "Roboto"},
    "encoding": {
      "y": {"field": "value", "type": "quantitative", "scale": {"domain": [0, 1000000], "nice": false}, "axis": null},
      "text": {"field": "label"}
    }
  },
  {
    "data": {"values": [
      {"date": "2021-02-08", "value": 244400, "label": "2-week fatality rate 2.23%"},
      {"date": "2020-12-25", "value": 172000, "label": "Cume fatality rate 2.09%"}
    ]},
    "mark": {"type": "text", "align": "right", "baseline": "alphabetic", "fontSize": 16.6, "color": "#1a1a1a", "font": "Roboto"},
    "encoding": {
      "y": {"field": "value", "type": "quantitative", "scale": {"domain": [0, 1000000], "nice": false}, "axis": null},
      "text": {"field": "label"}
    }
  },
  {
    "data": {"name": "cfr"},
    "mark": {"type": "line", "color": "#4bacc6", "strokeWidth": 3, "strokeDash": [0.1, 6.2], "strokeCap": "round"},
    "encoding": {
      "y": {
        "field": "rate", "type": "quantitative",
        "scale": {"domain": [0, 0.08], "nice": false},
        "axis": {
          "orient": "right", "title": "Case fatality rate", "format": ".0%",
          "values": [0, 0.01, 0.02, 0.03, 0.04, 0.05, 0.06, 0.07, 0.08],
          "labelFontSize": 17, "labelColor": "#4bacc6", "titleColor": "#4bacc6", "labelPadding": 11, "titlePadding": 6, "grid": false
        }
      }
    }
  },
  {
    "data": {"values": [{"date": "2021-07-21", "rate": 0.0223}]},
    "mark": {"type": "point", "shape": "triangle-up", "filled": true, "color": "#4bacc6", "size": 110, "opacity": 1},
    "encoding": {"y": {"field": "rate", "type": "quantitative", "scale": {"domain": [0, 0.08], "nice": false}, "axis": null}}
  },
  {
    "data": {"values": [{"date": "2021-07-21", "rate": 0.0209}]},
    "mark": {"type": "point", "shape": "circle", "filled": true, "color": "#4bacc6", "size": 110, "opacity": 1},
    "encoding": {"y": {"field": "rate", "type": "quantitative", "scale": {"domain": [0, 0.08], "nice": false}, "axis": null}}
  }
],
"resolve": {"scale": {"y": "independent"}}
}
